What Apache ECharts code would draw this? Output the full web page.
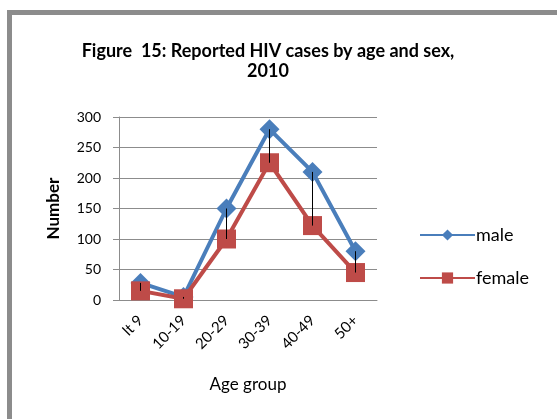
<!DOCTYPE html>
<html>
<head>
<meta charset="utf-8">
<script src="https://cdn.jsdelivr.net/npm/echarts@6/dist/echarts.min.js"></script>
<style>
  html, body { margin: 0; padding: 0; background: #fff; }
  #chart { width: 557px; height: 419px; }
</style>
</head>
<body>
<div id="chart"></div>
<script>
// 年龄组
var ageGroups = ["lt 9", "10-19", "20-29", "30-39", "40-49", "50+"];
// 男性 / 女性 病例数
var male = [28, 5, 150, 280, 210, 80];
var female = [15, 2, 100, 225, 122, 45];
var yTicks = { min: 0, max: 300, step: 50 };

var font = "Lato, 'Open Sans', sans-serif";
var chart = echarts.init(document.getElementById("chart"));

// 高低线数据
var hiLo = ageGroups.map(function (g, i) {
  return [i, male[i], female[i]];
});

var option = {
  backgroundColor: "#fff",
  animation: false,
  textStyle: { fontFamily: font },
  graphic: [
    { type: "rect", shape: { x: 7, y: 10, width: 550, height: 5 }, style: { fill: "#8c8c8c" } },
    { type: "rect", shape: { x: 7, y: 10, width: 5, height: 409 }, style: { fill: "#8c8c8c" } }
  ],
  title: {
    text: "Figure  15: Reported HIV cases by age and sex,\n2010",
    left: 263,
    top: 36,
    textAlign: "center",
    textStyle: { fontFamily: font, fontSize: 18, fontWeight: "bold", color: "#000", lineHeight: 20 }
  },
  legend: {
    orient: "vertical",
    left: 414,
    top: 221,
    itemWidth: 55,
    itemHeight: 14,
    itemGap: 25,
    data: ["male", "female"],
    textStyle: { fontFamily: font, fontSize: 18, color: "#000", padding: [0, 0, 0, -4] }
  },
  grid: { left: 119, right: 180, top: 117, bottom: 119 },
  xAxis: {
    type: "category",
    data: ageGroups,
    name: "Age group",
    nameLocation: "middle",
    nameGap: 76,
    nameTextStyle: { fontFamily: font, fontSize: 17, color: "#000" },
    axisLine: { lineStyle: { color: "#8c8c8c" } },
    axisTick: { show: false },
    axisLabel: { rotate: 45, fontSize: 15, color: "#000", margin: 18, fontFamily: font }
  },
  yAxis: {
    type: "value",
    min: yTicks.min,
    max: yTicks.max,
    interval: yTicks.step,
    name: "Number",
    nameLocation: "middle",
    nameRotate: 90,
    nameGap: 57,
    nameTextStyle: { fontFamily: font, fontSize: 17, fontWeight: "bold", color: "#000" },
    axisLine: { show: true, lineStyle: { color: "#8c8c8c" } },
    axisTick: { show: true, length: 6, lineStyle: { color: "#8c8c8c" } },
    axisLabel: { fontSize: 14, color: "#000", margin: 18, fontFamily: font },
    splitLine: { lineStyle: { color: "#8c8c8c" } }
  },
  series: [
    {
      name: "male",
      type: "line",
      data: male,
      color: "#4a7ebb",
      symbol: "diamond",
      symbolSize: 20,
      lineStyle: { width: 4 },
      z: 2
    },
    {
      name: "female",
      type: "line",
      data: female,
      color: "#be4b48",
      symbol: "rect",
      symbolSize: 19,
      lineStyle: { width: 4 },
      z: 3
    },
    {
      name: "hilo",
      type: "custom",
      data: hiLo,
      encode: { x: 0, y: [1, 2] },
      z: 10,
      silent: true,
      renderItem: function (params, api) {
        var a = api.coord([api.value(0), api.value(1)]);
        var b = api.coord([api.value(0), api.value(2)]);
        return {
          type: "line",
          shape: { x1: a[0], y1: a[1], x2: b[0], y2: b[1] },
          style: { stroke: "#000", lineWidth: 1 }
        };
      }
    }
  ]
};

chart.setOption(option);
</script>
</body>
</html>
